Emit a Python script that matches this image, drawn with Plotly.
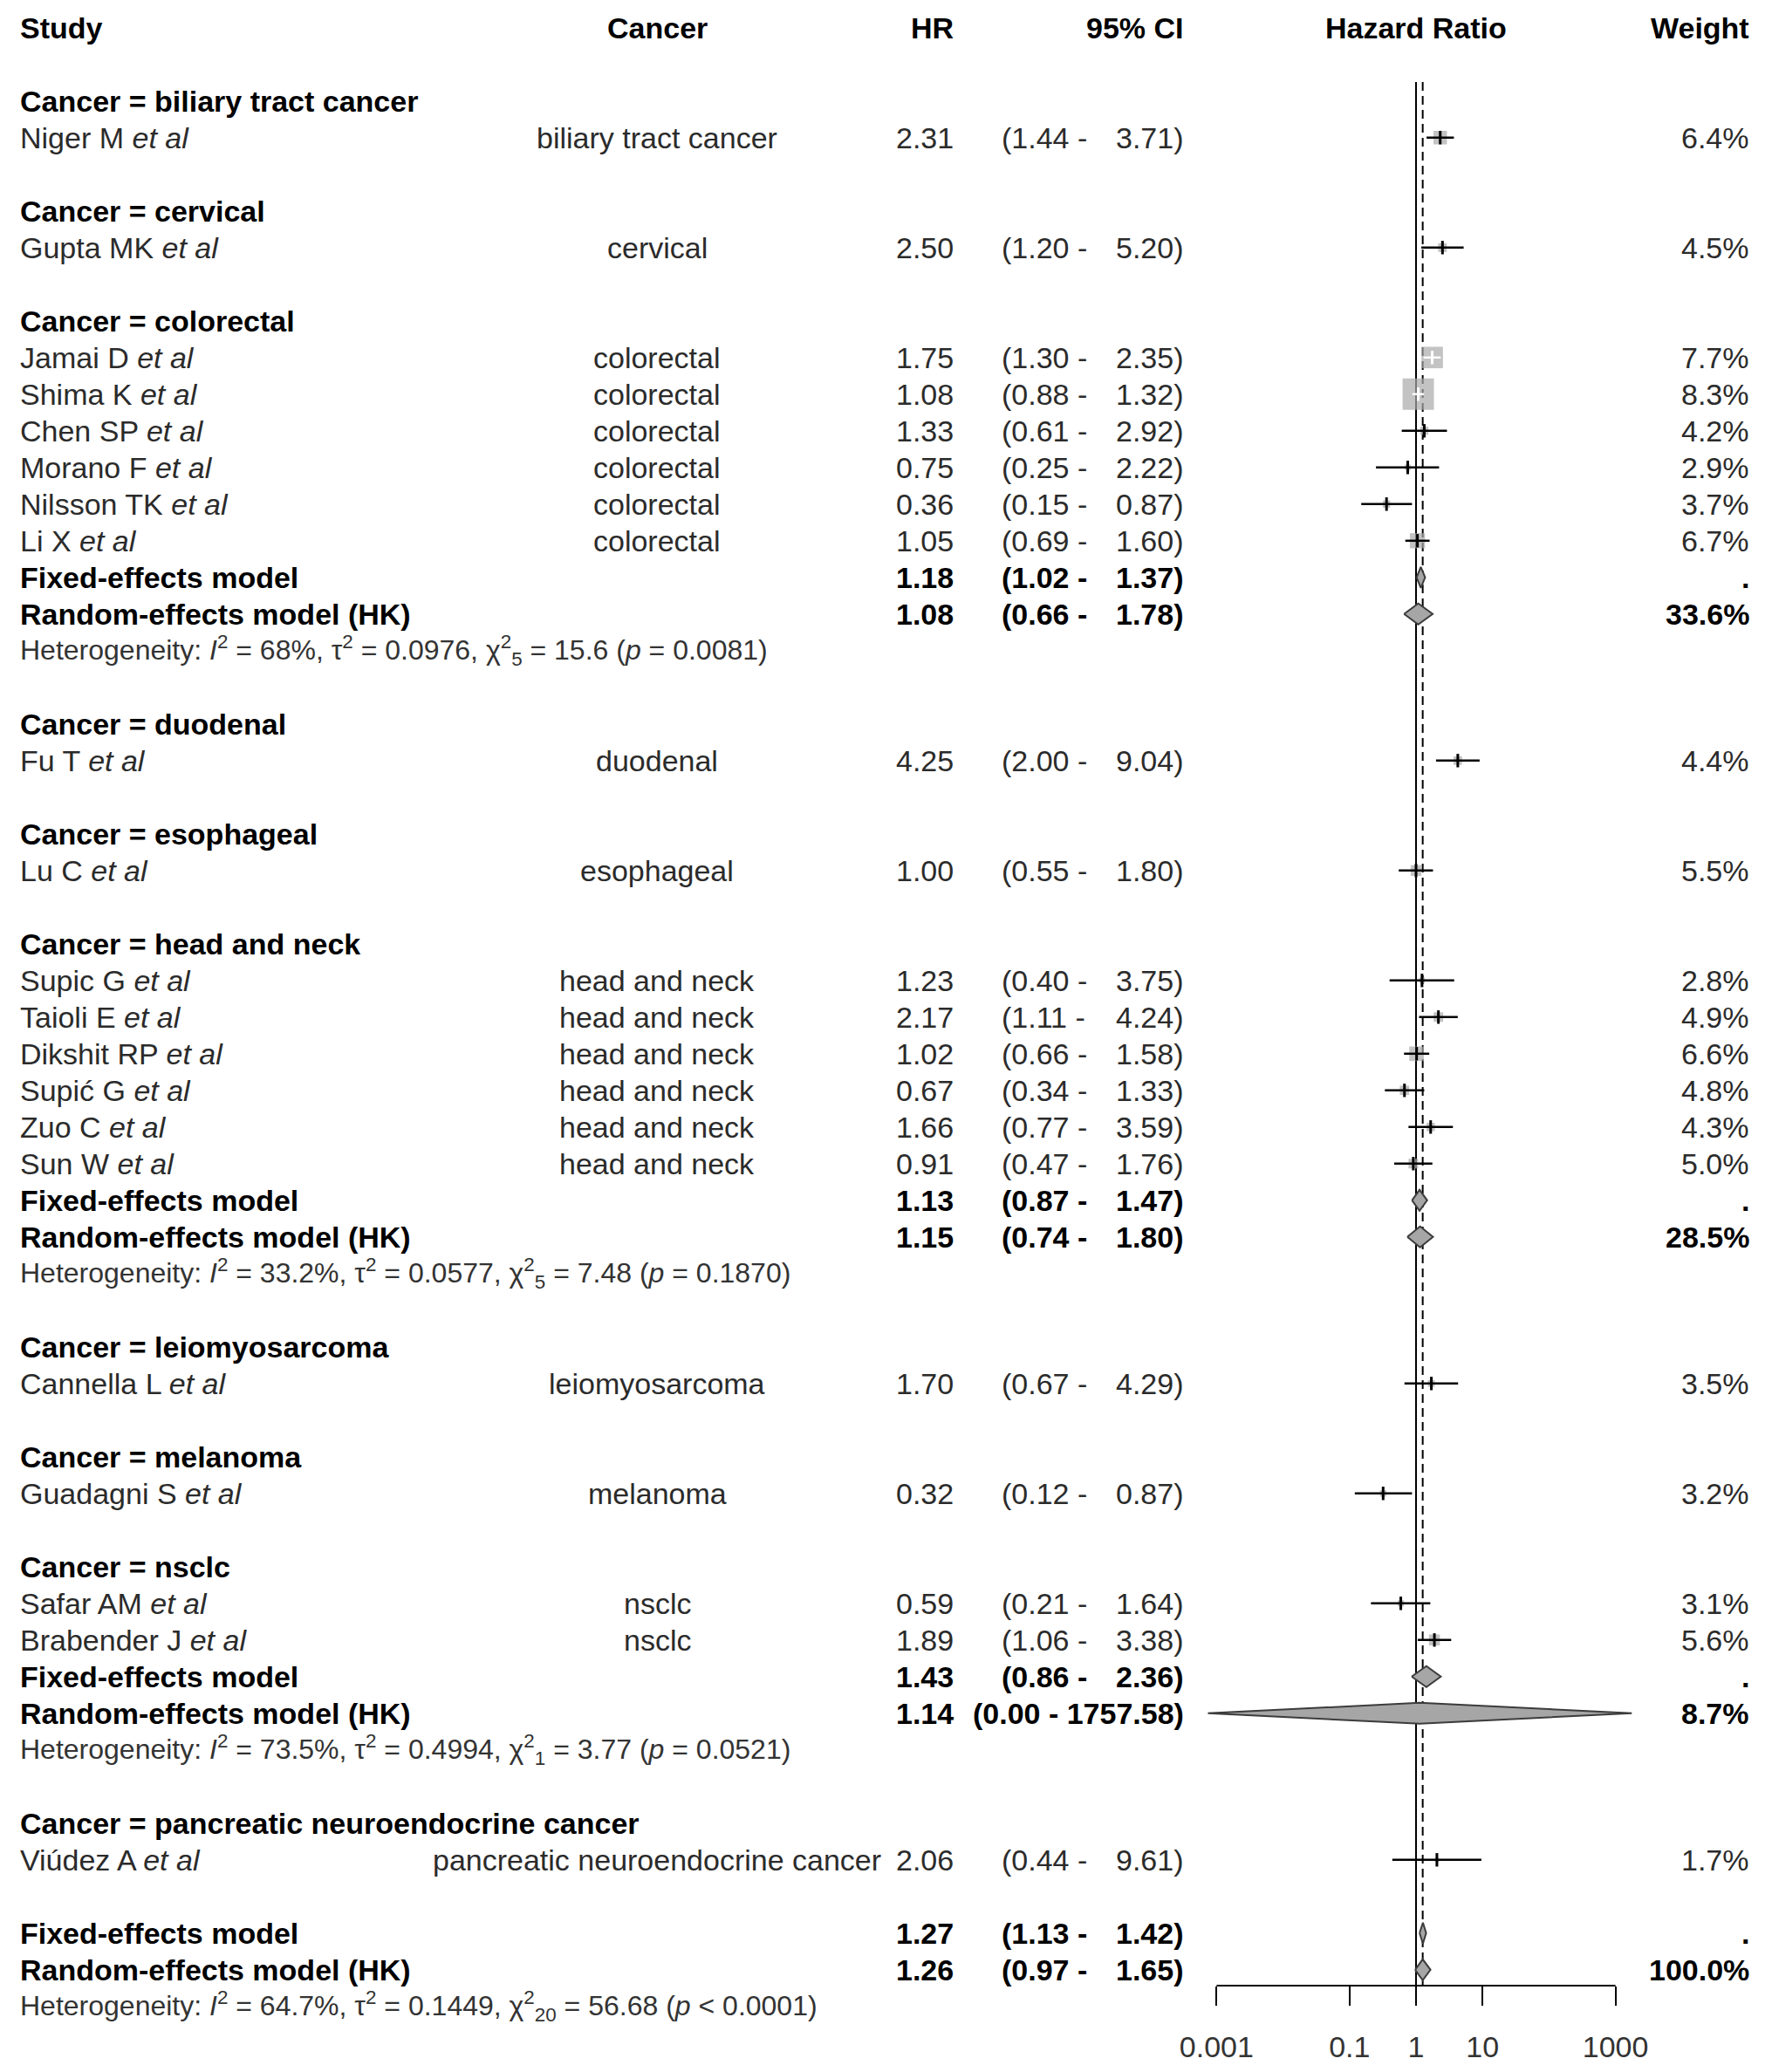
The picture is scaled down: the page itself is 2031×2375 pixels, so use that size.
import math
import plotly.graph_objects as go

FONT = "Liberation Sans, Arial, sans-serif"

# ---------------- data ----------------
group_names = ["biliary tract cancer", "cervical", "colorectal", "duodenal", "esophageal",
               "head and neck", "leiomyosarcoma", "melanoma", "nsclc",
               "pancreatic neuroendocrine cancer"]

study_names = ["Niger M", "Gupta MK", "Jamai D", "Shima K", "Chen SP", "Morano F",
               "Nilsson TK", "Li X", "Fu T", "Lu C", "Supic G", "Taioli E", "Dikshit RP",
               "Supić G", "Zuo C", "Sun W", "Cannella L", "Guadagni S", "Safar AM",
               "Brabender J", "Viúdez A"]
study_group = [0, 1, 2, 2, 2, 2, 2, 2, 3, 4, 5, 5, 5, 5, 5, 5, 6, 7, 8, 8, 9]
hr = [2.31, 2.50, 1.75, 1.08, 1.33, 0.75, 0.36, 1.05, 4.25, 1.00, 1.23, 2.17, 1.02,
      0.67, 1.66, 0.91, 1.70, 0.32, 0.59, 1.89, 2.06]
ci_low = [1.44, 1.20, 1.30, 0.88, 0.61, 0.25, 0.15, 0.69, 2.00, 0.55, 0.40, 1.11, 0.66,
          0.34, 0.77, 0.47, 0.67, 0.12, 0.21, 1.06, 0.44]
ci_high = [3.71, 5.20, 2.35, 1.32, 2.92, 2.22, 0.87, 1.60, 9.04, 1.80, 3.75, 4.24, 1.58,
           1.33, 3.59, 1.76, 4.29, 0.87, 1.64, 3.38, 9.61]
weight_pct = [6.4, 4.5, 7.7, 8.3, 4.2, 2.9, 3.7, 6.7, 4.4, 5.5, 2.8, 4.9, 6.6, 4.8, 4.3,
              5.0, 3.5, 3.2, 3.1, 5.6, 1.7]

# subgroup summaries (groups with more than one study)
sub_groups = [2, 5, 8]
sub_fixed_hr = [1.18, 1.13, 1.43]
sub_fixed_low = [1.02, 0.87, 0.86]
sub_fixed_high = [1.37, 1.47, 2.36]
sub_rand_hr = [1.08, 1.15, 1.14]
sub_rand_low = [0.66, 0.74, 0.00074]
sub_rand_high = [1.78, 1.80, 1757.58]
sub_rand_weight = [33.6, 28.5, 8.7]
sub_i2 = ["68%", "33.2%", "73.5%"]
sub_tau2 = ["0.0976", "0.0577", "0.4994"]
sub_df = ["5", "5", "1"]
sub_chi2 = ["15.6", "7.48", "3.77"]
sub_p = ["= 0.0081", "= 0.1870", "= 0.0521"]

overall_fixed = [1.27, 1.13, 1.42]
overall_random = [1.26, 0.97, 1.65]
overall_weight = 100.0
overall_het = ["64.7%", "0.1449", "20", "56.68", "< 0.0001"]

x_ticks = [0.001, 0.1, 1, 10, 1000]
x_tick_labels = ["0.001", "0.1", "1", "10", "1000"]

# ---------------- geometry (page pixels) ----------------
OFF = 8                     # default body margin of the html page
W, H = 2031 - 2 * OFF, 2375 - 2 * OFF
ROW0_PX, ROW_PX = 31.8, 42.0
X1_PX, DEC_PX = 1623.0, 76.2
AXIS_PX = 2276.0
DIA_H = 12.0 / ROW_PX
SQ_K = 3.72

COL_STUDY = 21
COL_CANCER = 753
COL_HR = 1095
COL_CI_L = 1146
COL_CI_R = 1358.6
COL_W = 2007

REG = "#2b2b2b"
BLK = "#000000"

annotations = []


def txt(xpx, row, text, anchor, bold=False, size=34, color=None):
    if bold:
        text = "<b>" + text + "</b>"
    annotations.append(dict(x=(xpx - OFF) / W, xref="paper", y=row, yref="y", text=text,
                            showarrow=False, xanchor=anchor, yanchor="middle",
                            font=dict(family=FONT, size=size,
                                      color=color or (BLK if bold else REG))))


def ci_text(row, lo, hi, bold=False):
    ls, hs = f"{lo:.2f}", f"{hi:.2f}"
    if len(hs) > 5:
        txt(COL_CI_R, row, f"({ls} - {hs})", "right", bold)
    else:
        txt(COL_CI_L, row, f"({ls} -", "left", bold)
        txt(COL_CI_R, row, f"{hs})", "right", bold)


def het_text(row, i2, tau2, df, chi2, p):
    s = (f"Heterogeneity: <i>I</i><sup>2</sup> = {i2}, τ<sup>2</sup> = {tau2}, "
         f"χ<sup>2</sup><sub>{df}</sub> = {chi2} (<i>p</i> {p})")
    txt(COL_STUDY, row, s, "left", size=32, color="#333333")


dia_x, dia_y = [], []


def diamond(row, est, lo, hi):
    dia_x.extend([lo, est, hi, est, lo, None])
    dia_y.extend([row, row - DIA_H, row, row + DIA_H, row, None])


# headers
txt(COL_STUDY, 0, "Study", "left", True)
txt(COL_CANCER, 0, "Cancer", "center", True)
txt(COL_HR, 0, "HR", "right", True)
txt(COL_CI_R, 0, "95% CI", "right", True)
txt(X1_PX, 0, "Hazard Ratio", "center", True)
txt(COL_W, 0, "Weight", "right", True)

study_rows = [0] * len(study_names)
r = 2
for g, gname in enumerate(group_names):
    txt(COL_STUDY, r, f"Cancer = {gname}", "left", True)
    r += 1
    for i in range(len(study_names)):
        if study_group[i] != g:
            continue
        study_rows[i] = r
        txt(COL_STUDY, r, f"{study_names[i]} <i>et al</i>", "left")
        txt(COL_CANCER, r, gname, "center")
        txt(COL_HR, r, f"{hr[i]:.2f}", "right")
        ci_text(r, ci_low[i], ci_high[i])
        txt(COL_W, r, f"{weight_pct[i]:.1f}%", "right")
        r += 1
    if g in sub_groups:
        k = sub_groups.index(g)
        txt(COL_STUDY, r, "Fixed-effects model", "left", True)
        txt(COL_HR, r, f"{sub_fixed_hr[k]:.2f}", "right", True)
        ci_text(r, sub_fixed_low[k], sub_fixed_high[k], True)
        txt(COL_W, r, ".", "right", True)
        diamond(r, sub_fixed_hr[k], sub_fixed_low[k], sub_fixed_high[k])
        r += 1
        txt(COL_STUDY, r, "Random-effects model (HK)", "left", True)
        txt(COL_HR, r, f"{sub_rand_hr[k]:.2f}", "right", True)
        ci_text(r, sub_rand_low[k], sub_rand_high[k], True)
        txt(COL_W, r, f"{sub_rand_weight[k]:.1f}%", "right", True)
        diamond(r, sub_rand_hr[k], sub_rand_low[k], sub_rand_high[k])
        r += 1
        het_text(r, sub_i2[k], sub_tau2[k], sub_df[k], sub_chi2[k], sub_p[k])
        r += 1
    r += 1

# overall
txt(COL_STUDY, r, "Fixed-effects model", "left", True)
txt(COL_HR, r, f"{overall_fixed[0]:.2f}", "right", True)
ci_text(r, overall_fixed[1], overall_fixed[2], True)
txt(COL_W, r, ".", "right", True)
diamond(r, *overall_fixed)
r += 1
txt(COL_STUDY, r, "Random-effects model (HK)", "left", True)
txt(COL_HR, r, f"{overall_random[0]:.2f}", "right", True)
ci_text(r, overall_random[1], overall_random[2], True)
txt(COL_W, r, f"{overall_weight:.1f}%", "right", True)
diamond(r, *overall_random)
r += 1
het_text(r, *overall_het)

# ---------------- study marks ----------------
sizes, line_cols = [], []
blk_x, blk_y, wht_x, wht_y = [], [], [], []
for i in range(len(study_names)):
    se = (math.log(ci_high[i]) - math.log(ci_low[i])) / (2 * 1.96)
    s = SQ_K * math.sqrt(1.0 / se ** 2)
    sizes.append(s)
    ci_px = DEC_PX * (math.log10(ci_high[i]) - math.log10(ci_low[i]))
    inside = ci_px < s
    line_cols.append("white" if inside else BLK)
    xs, ys = (wht_x, wht_y) if inside else (blk_x, blk_y)
    xs.extend([ci_low[i], ci_high[i], None])
    ys.extend([study_rows[i], study_rows[i], None])

fig = go.Figure()
fig.add_trace(go.Scatter(x=hr, y=study_rows, mode="markers",
                         marker=dict(symbol="square", size=sizes, color="#AAAAAA",
                                     line=dict(width=0)),
                         hoverinfo="skip", showlegend=False))
fig.add_trace(go.Scatter(x=blk_x, y=blk_y, mode="lines", line=dict(color=BLK, width=2.5),
                         hoverinfo="skip", showlegend=False))
fig.add_trace(go.Scatter(x=wht_x, y=wht_y, mode="lines", line=dict(color="white", width=2.5),
                         hoverinfo="skip", showlegend=False))
fig.add_trace(go.Scatter(x=hr, y=study_rows, mode="markers",
                         marker=dict(symbol="line-ns", size=11,
                                     line=dict(color=line_cols, width=3)),
                         hoverinfo="skip", showlegend=False))
fig.add_trace(go.Scatter(x=dia_x, y=dia_y, mode="lines", fill="toself",
                         fillcolor="#A6A6A6", line=dict(color="#3c3c3c", width=2),
                         hoverinfo="skip", showlegend=False))

axis_row = (AXIS_PX - ROW0_PX) / ROW_PX
line_top = 1.48
shapes = [
    dict(type="line", xref="x", yref="y", x0=1, x1=1, y0=line_top, y1=axis_row,
         line=dict(color=BLK, width=2), layer="below"),
    dict(type="line", xref="x", yref="y", x0=overall_random[0], x1=overall_random[0],
         y0=line_top, y1=axis_row, line=dict(color=BLK, width=2, dash="10px,6px"),
         layer="below"),
    dict(type="line", xref="x", yref="y", x0=x_ticks[0], x1=x_ticks[-1],
         y0=axis_row, y1=axis_row, line=dict(color=BLK, width=2)),
]

r0 = ROW0_PX - OFF
x0 = X1_PX - OFF
x_dom = [(x0 - 4 * DEC_PX) / W, (x0 + 4 * DEC_PX) / W]
fig.update_layout(
    width=W, height=H,
    margin=dict(l=0, r=0, t=0, b=0),
    paper_bgcolor="white", plot_bgcolor="white",
    showlegend=False,
    annotations=annotations,
    shapes=shapes,
    xaxis=dict(type="log", range=[-4, 4], domain=x_dom, anchor="free",
               position=(H - (AXIS_PX - OFF)) / H,
               tickvals=x_ticks, ticktext=x_tick_labels, ticks="outside", ticklen=22,
               tickwidth=2, tickcolor=BLK, showline=False, showgrid=False, zeroline=False,
               ticklabelstandoff=18,
               tickfont=dict(family=FONT, size=34, color="#333333")),
    yaxis=dict(range=[(H - r0) / ROW_PX, -r0 / ROW_PX], domain=[0, 1],
               visible=False, showgrid=False, zeroline=False),
)

fig.write_html("out.html")
